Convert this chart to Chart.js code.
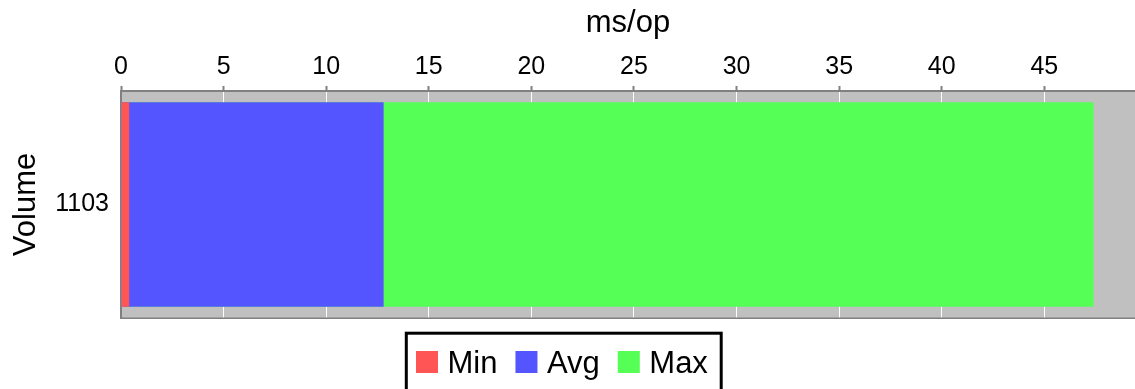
<!DOCTYPE html>
<html><head><meta charset="utf-8">
<script src="https://cdn.jsdelivr.net/npm/chart.js@4.4.0/dist/chart.umd.min.js"></script>
<style>html,body{margin:0;padding:0;background:#fff;overflow:hidden}</style>
</head><body>
<canvas id="c" width="1135" height="389"></canvas>
<script>
// ---- data ----
const categories = ['1103'];
const seriesNames = ['Min', 'Avg', 'Max'];
const minValues = [0.4];
const avgValues = [12.8];
const maxValues = [47.4];
const xTickValues = [0, 5, 10, 15, 20, 25, 30, 35, 40, 45];
const xAxisMax = 49.42;
const xAxisTitle = 'ms/op';
const yAxisTitle = 'Volume';

// ---- styles ----
const FONT = "'Liberation Sans', Arial, Helvetica, sans-serif";
const colors = ['#ff5555', '#5555ff', '#55ff55'];
const seriesValues = [minValues, avgValues, maxValues];

Chart.defaults.font.family = FONT;
Chart.defaults.color = '#000';

const plotBg = {
  id: 'plotBg',
  beforeDraw(chart) {
    const {ctx, chartArea: a} = chart;
    ctx.save();
    ctx.fillStyle = '#c0c0c0';
    ctx.fillRect(a.left, a.top, a.right - a.left, a.bottom - a.top);
    ctx.restore();
  },
  afterDraw(chart) {
    const {ctx, chartArea: a} = chart;
    ctx.save();
    ctx.strokeStyle = '#808080';
    ctx.lineWidth = 1.5;
    ctx.beginPath();
    ctx.moveTo(a.left, a.bottom + 0.25);
    ctx.lineTo(a.right, a.bottom + 0.25);
    ctx.stroke();
    ctx.restore();
  }
};

const boxLegend = {
  id: 'boxLegend',
  afterDraw(chart) {
    const ctx = chart.ctx;
    ctx.save();
    ctx.font = '31px ' + FONT;
    const box = 22, textGap = 9.5, itemGap = 18;
    const left = 406.3, right = 721.2, top = 333.2, bottom = 393;
    ctx.lineWidth = 3;
    ctx.strokeStyle = '#000';
    ctx.strokeRect(left, top, right - left, bottom - top);
    let x = 416;
    ctx.textBaseline = 'alphabetic';
    ctx.textAlign = 'left';
    chart.data.datasets.forEach(d => {
      ctx.fillStyle = d.backgroundColor;
      ctx.fillRect(x, 351, box, box);
      x += box + textGap;
      ctx.fillStyle = '#000';
      ctx.fillText(d.label, x, 373.3);
      x += ctx.measureText(d.label).width + itemGap;
    });
    ctx.restore();
  }
};

new Chart(document.getElementById('c'), {
  type: 'bar',
  data: {
    labels: categories,
    datasets: seriesNames.map((name, i) => ({
      label: name,
      data: seriesValues[i],
      backgroundColor: colors[i],
      borderWidth: 0,
      order: i + 1,
      categoryPercentage: 0.9,
      barPercentage: 1.0
    }))
  },
  options: {
    indexAxis: 'y',
    responsive: false,
    animation: false,
    events: [],
    layout: { padding: { top: 0, left: 0, right: 0, bottom: 71 } },
    plugins: {
      legend: { display: false },
      tooltip: { enabled: false },
      title: { display: false }
    },
    scales: {
      x: {
        position: 'top',
        type: 'linear',
        stacked: false,
        min: 0,
        max: xAxisMax,
        afterBuildTicks: s => { s.ticks = xTickValues.map(v => ({ value: v })); },
        afterFit: s => { s.height = 91; },
        ticks: { font: { size: 25 }, padding: 4, color: '#000', includeBounds: false, maxRotation: 0, autoSkip: false },
        grid: {
          color: '#ffffff', lineWidth: 1, borderDash: [4, 4],
          tickColor: '#808080', tickLength: 5, tickWidth: 2, tickBorderDash: [],
          drawTicks: true
        },
        border: { display: true, color: '#808080', width: 2 },
        title: { display: true, text: xAxisTitle, font: { size: 31 }, color: '#000', padding: { top: 5.2, bottom: 9.6 } }
      },
      y: {
        type: 'category',
        stacked: true,
        offset: true,
        afterFit: s => { s.width = 121; },
        ticks: { font: { size: 25 }, padding: 12, color: '#000' },
        grid: { display: false, drawTicks: false },
        border: { display: true, color: '#808080', width: 2 },
        title: { display: true, text: yAxisTitle, font: { size: 31 }, color: '#000', padding: { top: 8.2, bottom: 8 } }
      }
    }
  },
  plugins: [plotBg, boxLegend]
});
</script>
</body></html>
